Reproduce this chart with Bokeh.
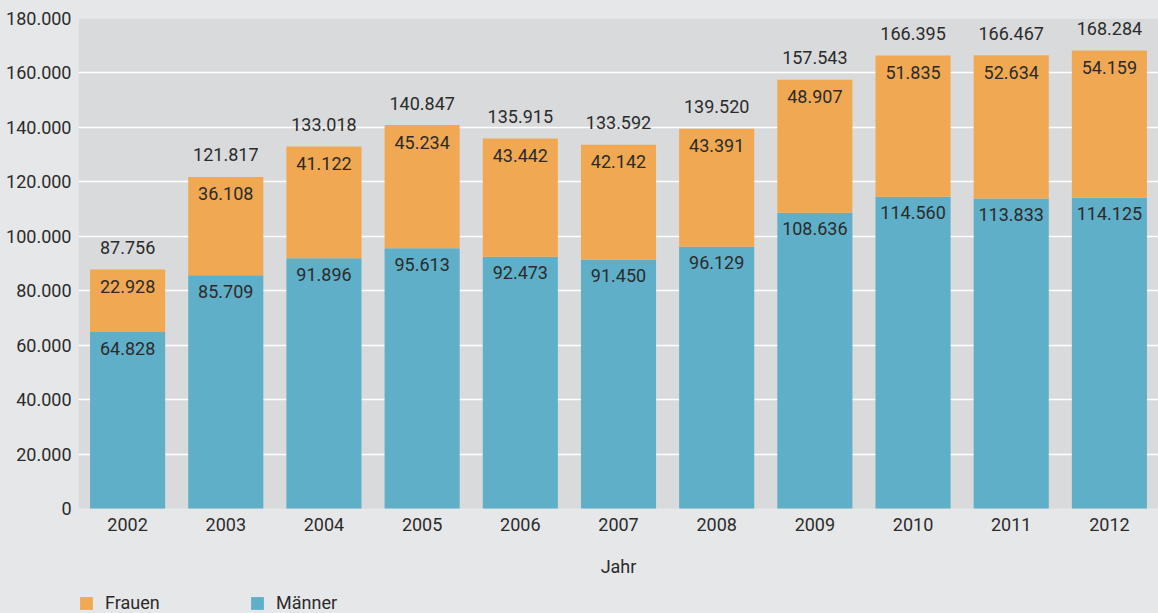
from bokeh.plotting import figure
from bokeh.models import (ColumnDataSource, FactorRange, Range1d, FixedTicker, Legend,
                          LegendItem, BoxAnnotation)
from bokeh.core.properties import value
from bokeh.embed import file_html
from bokeh.resources import INLINE

years = ["2002", "2003", "2004", "2005", "2006", "2007", "2008", "2009", "2010", "2011", "2012"]
maenner = [64828, 85709, 91896, 95613, 92473, 91450, 96129, 108636, 114560, 113833, 114125]
frauen = [22928, 36108, 41122, 45234, 43442, 42142, 43391, 48907, 51835, 52634, 54159]
totals = [87756, 121817, 133018, 140847, 135915, 133592, 139520, 157543, 166395, 166467, 168284]
y_ticks = [0, 20000, 40000, 60000, 80000, 100000, 120000, 140000, 160000, 180000]

BLUE = "#5fafc9"
ORANGE = "#f0a952"
PLOT_BG = "#d9dadc"
OUTER_BG = "#e6e7e9"
TXT = "#2b2b2b"
FONT = "Roboto"
FS = "18px"

Y_MAX = 180000
# frame spans from the top of the value area down to the page bottom;
# 490 px for the values, 105 px below zero for axis, title and legend
Y_MIN = -Y_MAX * 105 / 490


def fmt(v):
    return f"{v:,}".replace(",", ".")


src = ColumnDataSource(dict(
    year=years,
    m=maenner,
    f=frauen,
    ftop=[a + b for a, b in zip(maenner, frauen)],
    total=totals,
    mlab=[fmt(v) for v in maenner],
    flab=[fmt(v) for v in frauen],
    tlab=[fmt(v) for v in totals],
))

p = figure(
    x_range=FactorRange(*years, range_padding=0),
    y_range=Range1d(Y_MIN, Y_MAX),
    width=1158, height=613,
    output_backend="svg", toolbar_location=None,
    min_border_left=78, min_border_right=0, min_border_top=18, min_border_bottom=0,
    background_fill_color=OUTER_BG, border_fill_color=OUTER_BG,
    outline_line_color=None,
)

# grey value area
p.add_layout(BoxAnnotation(bottom=0, top=Y_MAX, fill_color=PLOT_BG, fill_alpha=1,
                           line_color=None, level="image"))

# grid
p.xgrid.grid_line_color = None
p.ygrid.ticker = FixedTicker(ticks=y_ticks[1:-1])
p.ygrid.grid_line_color = "white"
p.ygrid.grid_line_width = 1.5

rm = p.vbar(x="year", bottom=0, top="m", width=0.765, source=src,
            fill_color=BLUE, line_color=None)
rf = p.vbar(x="year", bottom="m", top="ftop", width=0.765, source=src,
            fill_color=ORANGE, line_color=None)

common = dict(source=src, text_align="center", text_baseline="middle",
              text_font=value(FONT), text_font_size=FS, text_color=TXT)
p.text(x="year", y="m", text="mlab", y_offset=16, **common)
p.text(x="year", y="ftop", text="flab", y_offset=17, **common)
p.text(x="year", y="total", text="tlab", y_offset=-22, **common)

# axes
p.yaxis.ticker = FixedTicker(ticks=y_ticks)
p.yaxis.major_label_overrides = {t: fmt(t) for t in y_ticks}
p.yaxis.axis_line_color = None
p.yaxis.major_tick_line_color = None
p.yaxis.major_tick_in = 0
p.yaxis.major_tick_out = 0
p.yaxis.minor_tick_line_color = None
p.yaxis.major_label_standoff = 7
p.yaxis.major_label_text_font = FONT
p.yaxis.major_label_text_font_size = FS
p.yaxis.major_label_text_color = TXT

p.xaxis.fixed_location = 0
p.xaxis.axis_label = "Jahr"
p.xaxis.axis_line_color = None
p.xaxis.major_tick_line_color = None
p.xaxis.major_tick_in = 0
p.xaxis.major_tick_out = 0
p.xaxis.major_label_standoff = 9
p.xaxis.major_label_text_font = FONT
p.xaxis.major_label_text_font_size = FS
p.xaxis.major_label_text_color = TXT
p.xaxis.axis_label_text_font = FONT
p.xaxis.axis_label_text_font_size = FS
p.xaxis.axis_label_text_font_style = "normal"
p.xaxis.axis_label_text_color = TXT
p.xaxis.axis_label_standoff = 22

for label, rend, xloc in (("Frauen", rf, 0), ("Männer", rm, 171)):
    lg = Legend(items=[LegendItem(label=label, renderers=[rend])],
                location=(xloc, 0), orientation="horizontal",
                padding=0, margin=0, glyph_width=16, glyph_height=16,
                label_standoff=11, label_height=16,
                background_fill_alpha=0, border_line_color=None,
                label_text_font=FONT, label_text_font_size=FS,
                label_text_color=TXT)
    p.add_layout(lg, "center")

html = file_html(p, INLINE)
html = html.replace("<body>", '<body style="background-color:%s;">' % OUTER_BG)
open("out.html", "w").write(html)
